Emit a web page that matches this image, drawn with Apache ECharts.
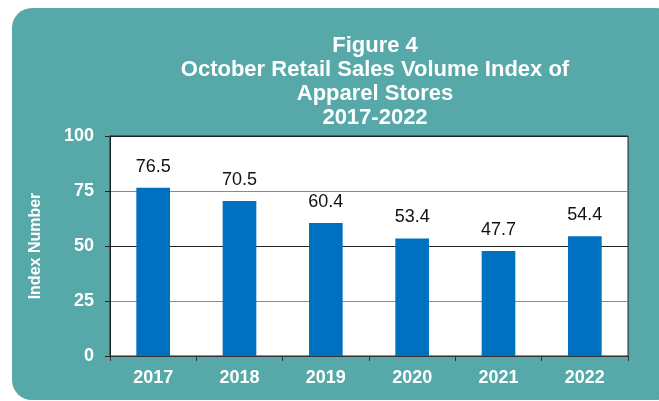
<!DOCTYPE html>
<html>
<head>
<meta charset="utf-8">
<script src="https://cdn.jsdelivr.net/npm/echarts@6/dist/echarts.min.js"></script>
<style>
html,body{margin:0;padding:0;background:#fff;}
#c{width:659px;height:401px;}
</style>
</head>
<body>
<div id="c"></div>
<script>
var categories = ['2017', '2018', '2019', '2020', '2021', '2022'];
var values = [76.5, 70.5, 60.4, 53.4, 47.7, 54.4];
var yTicks = [0, 25, 50, 75, 100];
var titleText = 'Figure 4\nOctober Retail Sales Volume Index of\nApparel Stores\n2017-2022';
var FONT = 'Liberation Sans, Arial, sans-serif';

var chart = echarts.init(document.getElementById('c'));
chart.setOption({
  animation: false,
  graphic: [{
    type: 'rect',
    z: -10,
    silent: true,
    shape: { x: 12, y: 8, width: 660, height: 392, r: [20, 16, 16, 20] },
    style: { fill: '#56A9A8' }
  }],
  title: {
    text: titleText,
    left: 370,
    textAlign: 'center',
    top: 29,
    textStyle: {
      color: '#fff',
      fontFamily: FONT,
      fontWeight: 'bold',
      fontSize: 22,
      lineHeight: 24
    }
  },
  grid: {
    left: 110, right: 31, top: 136, bottom: 45,
    show: true,
    backgroundColor: '#fff',
    borderColor: '#222',
    borderWidth: 1
  },
  xAxis: {
    type: 'category',
    data: categories,
    axisLine: { lineStyle: { color: '#333', width: 1 } },
    axisTick: { show: true, alignWithLabel: false, length: 5, lineStyle: { color: '#333' } },
    axisLabel: {
      color: '#fff', fontWeight: 'bold', fontSize: 18,
      fontFamily: FONT, margin: 13
    }
  },
  yAxis: {
    type: 'value',
    min: yTicks[0], max: yTicks[yTicks.length - 1], interval: 25,
    name: 'Index Number',
    nameLocation: 'middle',
    nameGap: 66,
    nameTextStyle: {
      color: '#fff', fontWeight: 'bold', fontSize: 16,
      fontFamily: FONT
    },
    axisLine: { show: true, lineStyle: { color: '#222' } },
    axisTick: { show: true, length: 5, lineStyle: { color: '#222' } },
    axisLabel: {
      color: '#fff', fontWeight: 'bold', fontSize: 18,
      fontFamily: FONT, margin: 16
    },
    splitLine: { show: true, lineStyle: { color: ['#222', '#8a8a8a'], width: 1 } }
  },
  series: [{
    type: 'bar',
    data: values,
    barWidth: '39%',
    itemStyle: { color: '#0070C0' },
    label: {
      show: true,
      position: 'top',
      distance: 12,
      color: '#111',
      fontSize: 18,
      fontFamily: FONT,
      formatter: function (p) { return p.value.toFixed(1); }
    }
  }]
});
</script>
</body>
</html>
